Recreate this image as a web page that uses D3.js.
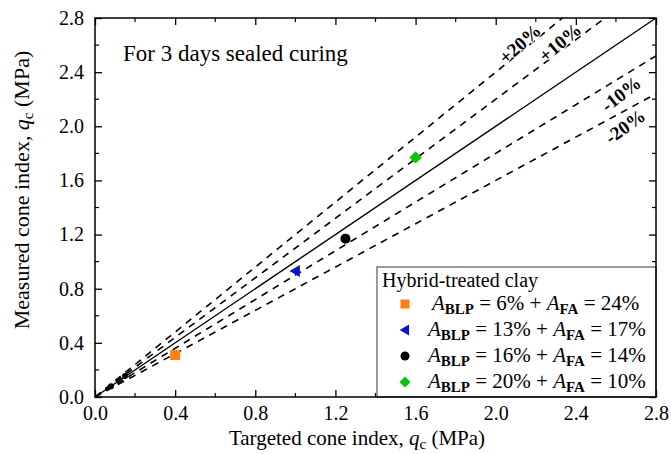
<!DOCTYPE html>
<html><head><meta charset="utf-8">
<script src="https://cdn.jsdelivr.net/npm/d3@7"></script>
<style>body{margin:0;background:#fff}svg text{font-family:"Liberation Serif","Times New Roman",serif}</style>
</head><body>
<svg id="c" width="671" height="454" font-family="Liberation Serif"></svg>
<script>
// Data
const seriesNames = ["6% + 24%", "13% + 17%", "16% + 14%", "20% + 10%"];
const blp = ["6%", "13%", "16%", "20%"];
const fa = ["24%", "17%", "14%", "10%"];
const seriesColors = ["#ff7f0e", "#0a14c8", "#000000", "#10c010"];
const seriesShapes = ["square", "triangleLeft", "circle", "diamond"];
const targeted = [0.40, 1.00, 1.25, 1.60];
const measured = [0.31, 0.93, 1.17, 1.77];
const extraTargeted = [0.08, 0.15];
const extraMeasured = [0.08, 0.155];
const bandFactors = [1.2, 1.1, 0.9, 0.8];
const bandLabels = ["+20%", "+10%", "-10%", "-20%"];
const bandLabelX = [2.12, 2.32, 2.625, 2.645];
const bandLabelY = [2.61, 2.62, 2.24, 2.00];
const bandLabelAngle = [-42, -40, -38, -36];
const tickValues = [0, 0.4, 0.8, 1.2, 1.6, 2.0, 2.4, 2.8];
const minorTicks = [0.2, 0.6, 1.0, 1.4, 1.8, 2.2, 2.6];

const svg = d3.select("#c");
const L = 95, R = 656, T = 18, B = 397;
const x = d3.scaleLinear().domain([0, 2.8]).range([L, R]);
const y = d3.scaleLinear().domain([0, 2.8]).range([B, T]);

// 1:1 line
svg.append("line").attr("x1", x(0)).attr("y1", y(0)).attr("x2", x(2.8)).attr("y2", y(2.8))
  .attr("stroke", "#000").attr("stroke-width", 1.4);
// band lines
bandFactors.forEach((f, i) => {
  const xe = Math.min(2.8, 2.8 / f);
  svg.append("line").attr("x1", x(0)).attr("y1", y(0)).attr("x2", x(xe)).attr("y2", y(xe * f))
    .attr("stroke", "#000").attr("stroke-width", 1.6).attr("stroke-dasharray", "7,6");
});
bandFactors.forEach((f, i) => {
  svg.append("text").attr("transform", `translate(${x(bandLabelX[i])},${y(bandLabelY[i])}) rotate(${bandLabelAngle[i]})`)
    .attr("text-anchor", "middle").attr("dy", "0.35em").attr("font-size", 19).attr("font-weight", "bold")
    .attr("stroke", "#fff").attr("stroke-width", 2).attr("paint-order", "stroke").attr("fill", "#000")
    .text(bandLabels[i]);
});

// points
function drawMarker(g, shape, cx, cy, color, s) {
  if (shape === "square") g.append("rect").attr("x", cx - s/2).attr("y", cy - s/2).attr("width", s).attr("height", s).attr("fill", color);
  else if (shape === "circle") g.append("circle").attr("cx", cx).attr("cy", cy).attr("r", s/2).attr("fill", color);
  else if (shape === "diamond") g.append("path").attr("d", `M${cx},${cy - s*0.62}L${cx + s*0.62},${cy}L${cx},${cy + s*0.62}L${cx - s*0.62},${cy}Z`).attr("fill", color);
  else if (shape === "triangleLeft") g.append("path").attr("d", `M${cx - s*0.6},${cy}L${cx + s*0.45},${cy - s*0.6}L${cx + s*0.45},${cy + s*0.6}Z`).attr("fill", color);
}
const pg = svg.append("g");
extraTargeted.forEach((v, i) => drawMarker(pg, "circle", x(v), y(extraMeasured[i]), "#000", 6));
targeted.forEach((v, i) => drawMarker(pg, seriesShapes[i], x(v), y(measured[i]), seriesColors[i], 10));

// axes
const xa = d3.axisBottom(x).tickValues(tickValues).tickFormat(d3.format(".1f")).tickSizeInner(-7).tickSizeOuter(0).tickPadding(9);
const ya = d3.axisLeft(y).tickValues(tickValues).tickFormat(d3.format(".1f")).tickSizeInner(-7).tickSizeOuter(0).tickPadding(11);
const gx = svg.append("g").attr("transform", `translate(0,${B})`).call(xa);
const gy = svg.append("g").attr("transform", `translate(${L},0)`).call(ya);
[gx, gy].forEach(g => { g.attr("font-family", null); g.select(".domain").remove(); g.selectAll("text").attr("font-size", 20).attr("fill", "#000").attr("font-family", "Liberation Serif"); g.selectAll("line").attr("stroke-width", 1.3); });
svg.append("g").attr("transform", `translate(0,${T})`).call(d3.axisTop(x).tickValues(tickValues).tickFormat("").tickSizeInner(-7).tickSizeOuter(0)).call(g => { g.select(".domain").remove(); g.selectAll("line").attr("stroke-width", 1.3); });
svg.append("g").attr("transform", `translate(${R},0)`).call(d3.axisRight(y).tickValues(tickValues).tickFormat("").tickSizeInner(-7).tickSizeOuter(0)).call(g => { g.select(".domain").remove(); g.selectAll("line").attr("stroke-width", 1.3); });
// minor ticks
minorTicks.forEach(v => {
  svg.append("line").attr("x1", x(v)).attr("x2", x(v)).attr("y1", B).attr("y2", B - 4).attr("stroke", "#000").attr("stroke-width", 1.2);
  svg.append("line").attr("x1", x(v)).attr("x2", x(v)).attr("y1", T).attr("y2", T + 4).attr("stroke", "#000").attr("stroke-width", 1.2);
  svg.append("line").attr("x1", L).attr("x2", L + 4).attr("y1", y(v)).attr("y2", y(v)).attr("stroke", "#000").attr("stroke-width", 1.2);
  svg.append("line").attr("x1", R).attr("x2", R - 4).attr("y1", y(v)).attr("y2", y(v)).attr("stroke", "#000").attr("stroke-width", 1.2);
});

// legend
const lg = svg.append("g");
lg.append("rect").attr("x", 377).attr("y", 267).attr("width", 279).attr("height", 130).attr("fill", "#fff").attr("stroke", "#555").attr("stroke-width", 1.2);
lg.append("text").attr("x", 382).attr("y", 287).attr("font-size", 20).text("Hybrid-treated clay");
const rowY = [304, 330, 356, 382];
seriesNames.forEach((n, i) => {
  drawMarker(lg, seriesShapes[i], 405, rowY[i], seriesColors[i], 9);
  const t = lg.append("text").attr("x", i === 0 ? 432 : 428).attr("y", rowY[i] + 6).attr("font-size", 21);
  t.append("tspan").attr("font-style", "italic").text("A");
  t.append("tspan").attr("font-weight", "bold").attr("font-size", 15).attr("dy", 4).text("BLP");
  t.append("tspan").attr("dy", -4).text(` = ${blp[i]} + `);
  t.append("tspan").attr("font-style", "italic").text("A");
  t.append("tspan").attr("font-weight", "bold").attr("font-size", 15).attr("dy", 4).text("FA");
  t.append("tspan").attr("dy", -4).text(` = ${fa[i]}`);
});

// frame
svg.append("rect").attr("x", L).attr("y", T).attr("width", R - L).attr("height", B - T).attr("fill", "none").attr("stroke", "#000").attr("stroke-width", 1.5);

// annotation
svg.append("text").attr("x", 123).attr("y", 61).attr("font-size", 23).text("For 3 days sealed curing");

// axis titles
const xt = svg.append("text").attr("x", 357).attr("y", 445).attr("text-anchor", "middle").attr("font-size", 21);
xt.append("tspan").text("Targeted cone index, ");
xt.append("tspan").attr("font-style", "italic").text("q");
xt.append("tspan").attr("font-size", 15).attr("dy", 4).text("c");
xt.append("tspan").attr("dy", -4).text(" (MPa)");
const yt = svg.append("text").attr("transform", `translate(29,190) rotate(-90)`).attr("text-anchor", "middle").attr("font-size", 22);
yt.append("tspan").text("Measured cone index, ");
yt.append("tspan").attr("font-style", "italic").text("q");
yt.append("tspan").attr("font-size", 15).attr("dy", 4).text("c");
yt.append("tspan").attr("dy", -4).text(" (MPa)");
</script>
</body></html>
